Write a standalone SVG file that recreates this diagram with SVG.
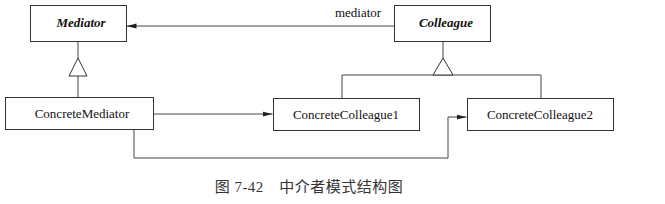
<svg xmlns="http://www.w3.org/2000/svg" width="665" height="204" viewBox="0 0 665 204">
<style>
.box{fill:#fff;stroke:#333;stroke-width:1}
.ln{fill:none;stroke:#444;stroke-width:1}
.t{font-family:"Liberation Serif","Times New Roman",serif;font-size:13px;fill:#111;text-anchor:middle}
.ab{font-style:italic;font-weight:bold}
.cap{font-family:"Liberation Serif","Noto Sans CJK SC",serif;font-size:15px;letter-spacing:0.5px;fill:#333;text-anchor:middle}
</style>
<defs>
<marker id="arr" markerWidth="10" markerHeight="6" refX="10" refY="3" orient="auto" markerUnits="userSpaceOnUse">
<path d="M0,0.5 L10,3 L0,5.5 Z" fill="#222"/>
</marker>
</defs>
<rect width="665" height="204" fill="#fff"/>
<g id="connectors">
<path class="ln" d="M394,26 H126.5" marker-end="url(#arr)"/>
<text class="t" x="358" y="17" font-size="12">mediator</text>
<path class="ln" d="M78,41 V58 M78,76 V97"/>
<polygon points="78,58 87,76 69,76" fill="#fff" stroke="#333"/>
<path class="ln" d="M443,41 V58 M342,98 V75 H541 V98"/>
<polygon points="443,58 453,75 433,75" fill="#fff" stroke="#333"/>
<path class="ln" d="M153,114 H272.5" marker-end="url(#arr)"/>
<path class="ln" d="M134,129 V158 H448 V117 H466.5" marker-end="url(#arr)"/>
</g>
<g id="Mediator">
<rect class="box" x="30.5" y="5.5" width="96" height="36"/>
<text class="t ab" x="81" y="27">Mediator</text>
</g>
<g id="Colleague">
<rect class="box" x="394.5" y="5.5" width="96" height="36"/>
<text class="t ab" x="446" y="27">Colleague</text>
</g>
<g id="ConcreteMediator">
<rect class="box" x="5.5" y="97.5" width="148" height="32"/>
<text class="t" x="82" y="118">ConcreteMediator</text>
</g>
<g id="ConcreteColleague1">
<rect class="box" x="273.5" y="98.5" width="146" height="32"/>
<text class="t" x="346" y="119">ConcreteColleague1</text>
</g>
<g id="ConcreteColleague2">
<rect class="box" x="467.5" y="98.5" width="146" height="32"/>
<text class="t" x="540" y="119">ConcreteColleague2</text>
</g>
<text class="cap" x="309" y="192" xml:space="preserve">图 7-42　中介者模式结构图</text>
</svg>
